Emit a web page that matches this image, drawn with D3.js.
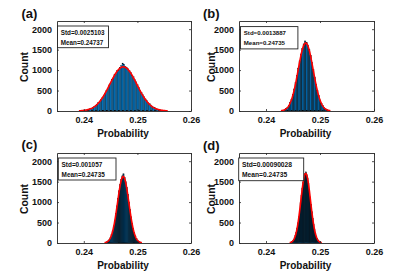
<!DOCTYPE html>
<html>
<head>
<meta charset="utf-8">
<script src="https://cdn.jsdelivr.net/npm/d3@7"></script>
<style>
  html, body { margin: 0; padding: 0; background: #fff; }
  svg { display: block; font-family: "Liberation Sans", Arial, Helvetica, sans-serif; }
</style>
</head>
<body>
<svg id="chart" width="415" height="278"></svg>
<script>
// ---------- data ----------
const panelLabels = ["(a)", "(b)", "(c)", "(d)"];
const stdValues   = ["0.0025103", "0.0013887", "0.001057", "0.00090028"];
const meanValues  = ["0.24737", "0.24735", "0.24735", "0.24735"];
const fitMean     = [0.24737, 0.24735, 0.24735, 0.24735];
const fitStd      = [0.0025103, 0.0013887, 0.001057, 0.00090028];
const fitPeak     = [1080, 1660, 1625, 1700];          // height of fitted normal curve (Count)
const binStart    = [0.239875, 0.243375, 0.2441, 0.24457]; // left edge of first bin
const binWidth    = [0.00025, 0.00025, 0.0002, 0.00016];
const countsA = [14,20,24,35,41,57,68,92,107,139,160,203,232,287,322,390,432,508,552,637,680,769,806,890,918,995,1003,1072,1110,1172,1148,1096,1062,1030,985,948,880,838,766,712,640,585,510,462,398,352,296,258,212,182,148,122,98,78,62,48,38,28,20,14,9];
const countsB = [36,58,92,139,205,291,401,536,692,865,1047,1227,1393,1530,1640,1712,1680,1611,1506,1362,1192,1011,829,659,507,378,272,190,128,84,53,33,19];
const countsC = [19,33,56,89,138,207,299,416,559,725,906,1094,1275,1432,1552,1640,1690,1600,1498,1358,1188,1003,817,642,486,355,251,171,112,71,43,26];
const countsD = [19,32,52,81,124,183,262,364,490,637,805,985,1166,1340,1491,1607,1690,1735,1667,1584,1458,1300,1125,941,764,601,458,338,241,167,112,73,46,28,17];
const counts = [countsA, countsB, countsC, countsD];
const xTicks = [0.24, 0.25, 0.26];
const yTicks = [0, 500, 1000, 1500, 2000];
const xDomain = [0.235, 0.26];
const yDomain = [0, 2200];

// ---------- layout ----------
const panels = [
  {left: 57,  top: 21,  w: 134, h: 90, lab: [21.5, 17.5], cnt: 24.5, box: [0.5, 5, 51, 21.7], fs: 6.3, sw: 0.25},
  {left: 239, top: 21,  w: 135, h: 90, lab: [203, 18],    cnt: 211,  box: [1.5, 5.6, 57.4, 22.3], fs: 6.1, sw: 0.45},
  {left: 57,  top: 153, w: 134, h: 90, lab: [21.5, 149],  cnt: 24.5, box: [1.3, 5, 57.7, 22], fs: 6.4, sw: 0.6},
  {left: 239, top: 153, w: 135, h: 90, lab: [203, 150],   cnt: 211,  box: [-0.3, 5, 65, 22.7], fs: 6.7, sw: 0.65}
];
const axisColor = "#262626";

const svg = d3.select("#chart");

panels.forEach((p, k) => {
  const x = d3.scaleLinear().domain(xDomain).range([p.left, p.left + p.w]);
  const y = d3.scaleLinear().domain(yDomain).range([p.top + p.h, p.top]);
  const g = svg.append("g");

  const clipId = "clip" + k;
  svg.append("clipPath").attr("id", clipId).append("rect")
    .attr("x", p.left).attr("y", p.top).attr("width", p.w).attr("height", p.h);

  // histogram bars
  const bins = counts[k].map((c, i) => ({x0: binStart[k] + i * binWidth[k], x1: binStart[k] + (i + 1) * binWidth[k], c}));
  g.append("g").attr("clip-path", `url(#${clipId})`)
    .selectAll("rect").data(bins).join("rect")
    .attr("x", d => x(d.x0))
    .attr("width", d => x(d.x1) - x(d.x0))
    .attr("y", d => y(d.c))
    .attr("height", d => y(0) - y(d.c))
    .attr("fill", "#0072BD")
    .attr("stroke", "#000")
    .attr("stroke-width", p.sw);

  // fitted normal curve (from the shown Mean and Std)
  const m = fitMean[k], s = fitStd[k];
  const xs = d3.range(201).map(i => m - 3.3 * s + i * (6.6 * s / 200));
  const line = d3.line().x(d => x(d)).y(d => y(fitPeak[k] * Math.exp(-0.5 * ((d - m) / s) ** 2)));
  g.append("path").datum(xs).attr("d", line)
    .attr("fill", "none").attr("stroke", "#ff0000").attr("stroke-width", 1.6)
    .attr("clip-path", `url(#${clipId})`);

  // axes (MATLAB-like box with inward ticks on all sides)
  const tl = -2;
  const ax = g.append("g").attr("transform", `translate(0,${p.top + p.h})`)
    .call(d3.axisBottom(x).tickValues(xTicks).tickFormat(d3.format(".2f")).tickSizeInner(tl).tickSizeOuter(0).tickPadding(6));
  const ay = g.append("g").attr("transform", `translate(${p.left},0)`)
    .call(d3.axisLeft(y).tickValues(yTicks).tickFormat(d3.format("d")).tickSizeInner(tl).tickSizeOuter(0).tickPadding(6));
  const axT = g.append("g").attr("transform", `translate(0,${p.top})`)
    .call(d3.axisTop(x).tickValues(xTicks).tickSizeInner(tl).tickSizeOuter(0).tickFormat(""));
  const ayR = g.append("g").attr("transform", `translate(${p.left + p.w},0)`)
    .call(d3.axisRight(y).tickValues(yTicks).tickSizeInner(tl).tickSizeOuter(0).tickFormat(""));
  [ax, ay, axT, ayR].forEach(a => {
    a.select(".domain").attr("stroke", axisColor).attr("stroke-width", 0.9);
    a.selectAll(".tick line").attr("stroke", axisColor).attr("stroke-width", 0.8);
    a.selectAll(".tick text").attr("fill", "#111").attr("font-size", 9).attr("font-weight", "bold")
      .attr("font-family", "Liberation Sans, Arial, sans-serif");
  });
  ax.selectAll(".tick text").attr("dy", "0.71em").attr("y", 6);
  ay.selectAll(".tick text").attr("x", -5);

  // axis titles
  g.append("text").attr("x", p.left + p.w / 2 - 1).attr("y", p.top + p.h + 26)
    .attr("text-anchor", "middle").attr("font-size", 10).attr("font-weight", "bold").attr("fill", "#111")
    .text("Probability");
  g.append("text").attr("transform", `translate(${p.cnt},${p.top + p.h / 2 + 1}) rotate(-90)`)
    .attr("text-anchor", "middle").attr("dominant-baseline", "central")
    .attr("font-size", 10.4).attr("font-weight", "bold").attr("fill", "#111")
    .text("Count");

  // panel label
  g.append("text").attr("x", p.lab[0]).attr("y", p.lab[1])
    .attr("font-size", 13).attr("font-weight", "bold").attr("fill", "#111")
    .text(panelLabels[k]);

  // stats box
  const bx = p.left + p.box[0], by = p.top + p.box[1];
  g.append("rect").attr("x", bx).attr("y", by).attr("width", p.box[2]).attr("height", p.box[3])
    .attr("fill", "#fff").attr("stroke", "#222").attr("stroke-width", 0.9);
  g.append("text").attr("x", bx + 3.3).attr("y", by + 8.6)
    .attr("font-size", p.fs).attr("font-weight", "bold").attr("fill", "#111")
    .text("Std=" + stdValues[k]);
  g.append("text").attr("x", bx + 3.3).attr("y", by + 18.8)
    .attr("font-size", p.fs).attr("font-weight", "bold").attr("fill", "#111")
    .text("Mean=" + meanValues[k]);
});
</script>
</body>
</html>
